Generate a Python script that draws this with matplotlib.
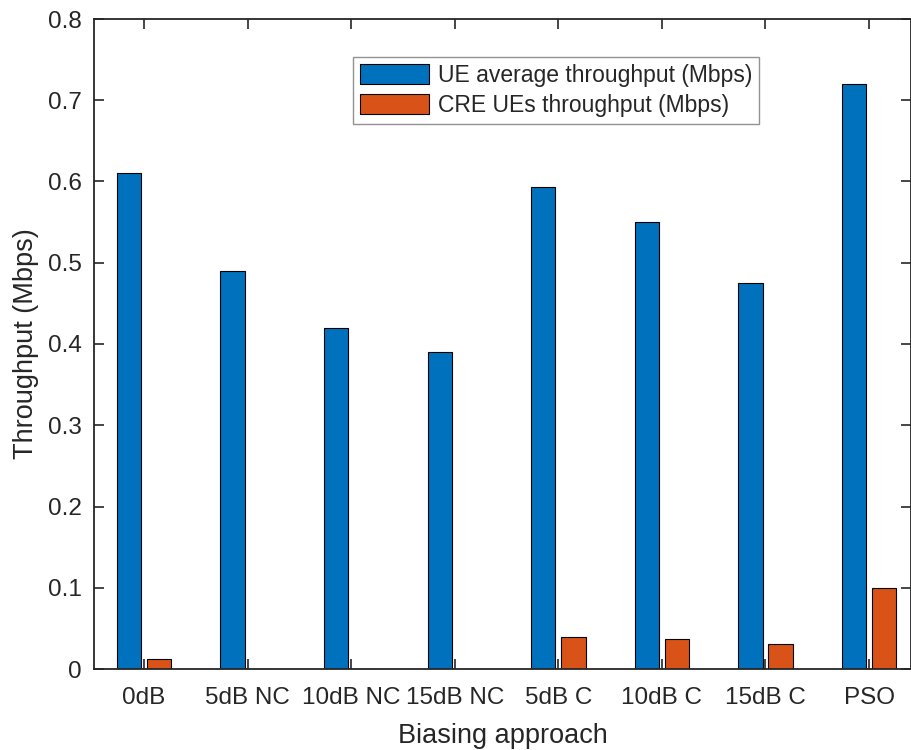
import numpy as np
import matplotlib.pyplot as plt

categories = ['0dB', '5dB NC', '10dB NC', '15dB NC', '5dB C', '10dB C', '15dB C', 'PSO']
ue_avg = [0.610, 0.490, 0.420, 0.390, 0.593, 0.550, 0.475, 0.720]
cre_ue = [0.012, 0.0, 0.0, 0.0, 0.040, 0.037, 0.031, 0.100]

blue = '#0072BD'
orange = '#D95319'
axis_color = '#262626'

plt.rcParams['font.family'] = ['Liberation Sans', 'DejaVu Sans']

fig = plt.figure(figsize=(9.12, 7.5), dpi=100)
ax = fig.add_axes([94 / 912, 1 - 669 / 750, (911 - 94) / 912, (669 - 19) / 750])

x = np.arange(1, len(categories) + 1)
w = 0.235
ax.bar(x - 0.145, ue_avg, w, color=blue, edgecolor='black', linewidth=0.8,
       label='UE average throughput (Mbps)')
ax.bar(x + 0.145, cre_ue, w, color=orange, edgecolor='black', linewidth=0.8,
       label='CRE UEs throughput (Mbps)')

ax.set_xlim(0.517, 8.405)
ax.set_ylim(0, 0.8)
ax.set_xticks(x)
ax.set_xticklabels(categories)
ax.set_yticks(np.arange(0, 0.81, 0.1))
ax.set_yticklabels(['0'] + ['%.1f' % v for v in np.arange(0.1, 0.81, 0.1)])

ax.tick_params(direction='in', length=7, width=1.2, colors=axis_color,
               labelsize=17.5, top=True, right=True)
ax.tick_params(axis='y', pad=9)
ax.tick_params(axis='x', pad=13)
for s in ax.spines.values():
    s.set_color(axis_color)
    s.set_linewidth(1.3)

ax.set_xlabel('Biasing approach', fontsize=19.5, color=axis_color, labelpad=10)
ax.set_ylabel('Throughput (Mbps)', fontsize=19.5, color=axis_color, labelpad=6)

leg = ax.legend(loc='upper left', bbox_to_anchor=((353 - 94) / 817, 1 - (57 - 19) / 650),
                fontsize=16.5, frameon=True, fancybox=False, borderaxespad=0,
                handlelength=3.0, handleheight=1.0, handletextpad=0.4,
                labelspacing=0.3, borderpad=0.3)
leg.get_frame().set_edgecolor('#777777')
leg.get_frame().set_linewidth(1.0)
for t in leg.get_texts():
    t.set_color(axis_color)

fig.savefig('out.png', dpi=100)
